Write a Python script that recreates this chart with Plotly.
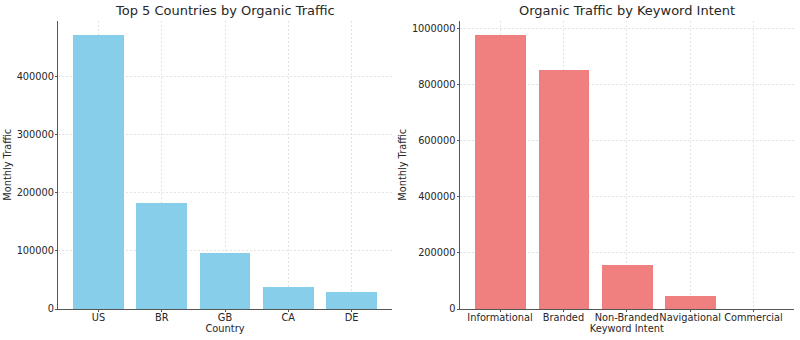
import plotly.graph_objects as go

countries = ["US", "BR", "GB", "CA", "DE"]
country_traffic = [471600, 182300, 96000, 38300, 30300]

intents = ["Informational", "Branded", "Non-Branded", "Navigational", "Commercial"]
intent_traffic = [978600, 853000, 156600, 48800, 0]

FONT = "DejaVu Sans"
TXT = "#262626"

fig = go.Figure()
fig.add_trace(go.Bar(x=list(range(len(countries))), y=country_traffic, width=0.8,
                     marker=dict(color="#87CEEB", line=dict(width=0)),
                     xaxis="x", yaxis="y", showlegend=False))
fig.add_trace(go.Bar(x=list(range(len(intents))), y=intent_traffic, width=0.8,
                     marker=dict(color="#F08080", line=dict(width=0)),
                     xaxis="x2", yaxis="y2", showlegend=False))

GRID = dict(showgrid=True, gridcolor="#e4e4e4", griddash="2px,2px", gridwidth=0.7)
common_x = dict(showline=True, linecolor="#555555", linewidth=1, ticks="outside",
                ticklen=2, tickcolor="#555555", zeroline=False, automargin=False,
                tickangle=0, ticklabelstandoff=-3,
                tickfont=dict(family=FONT, size=9.8, color=TXT),
                title_font=dict(family=FONT, size=9.8, color=TXT), title_standoff=1,
                range=[-0.64, 4.64], tickmode="array", tickvals=list(range(5)), **GRID)
common_y = dict(showline=True, linecolor="#555555", linewidth=1, ticks="outside",
                ticklen=2, tickcolor="#555555", zeroline=False, tickformat="d",
                automargin=False, ticklabelstandoff=-1,
                tickfont=dict(family=FONT, size=9.8, color=TXT),
                title_font=dict(family=FONT, size=9.8, color=TXT), title_standoff=3, **GRID)

y_dom = [1 - 309 / 340, 1 - 20.7 / 340]

fig.update_layout(
    width=800, height=340, margin=dict(l=0, r=0, t=0, b=0),
    paper_bgcolor="white", plot_bgcolor="white", bargap=0,
    xaxis=dict(domain=[58 / 800, 392 / 800], ticktext=countries, title_text="Country", anchor="y", **common_x),
    yaxis=dict(domain=y_dom, range=[0, 495200], dtick=100000, title_text="Monthly Traffic", anchor="x", **common_y),
    xaxis2=dict(domain=[459.5 / 800, 794 / 800], ticktext=intents, title_text="Keyword Intent", anchor="y2", **common_x),
    yaxis2=dict(domain=y_dom, range=[0, 1027500], dtick=200000, title_text="Monthly Traffic", anchor="x2", **common_y),
    annotations=[
        dict(text="Top 5 Countries by Organic Traffic", x=(58 + 392) / 1600, y=1 - 11 / 340,
             xref="paper", yref="paper", showarrow=False, xanchor="center", yanchor="middle",
             font=dict(family=FONT, size=13, color=TXT)),
        dict(text="Organic Traffic by Keyword Intent", x=(459.5 + 794) / 1600, y=1 - 11 / 340,
             xref="paper", yref="paper", showarrow=False, xanchor="center", yanchor="middle",
             font=dict(family=FONT, size=13, color=TXT)),
    ],
)

fig.write_html("out.html")
